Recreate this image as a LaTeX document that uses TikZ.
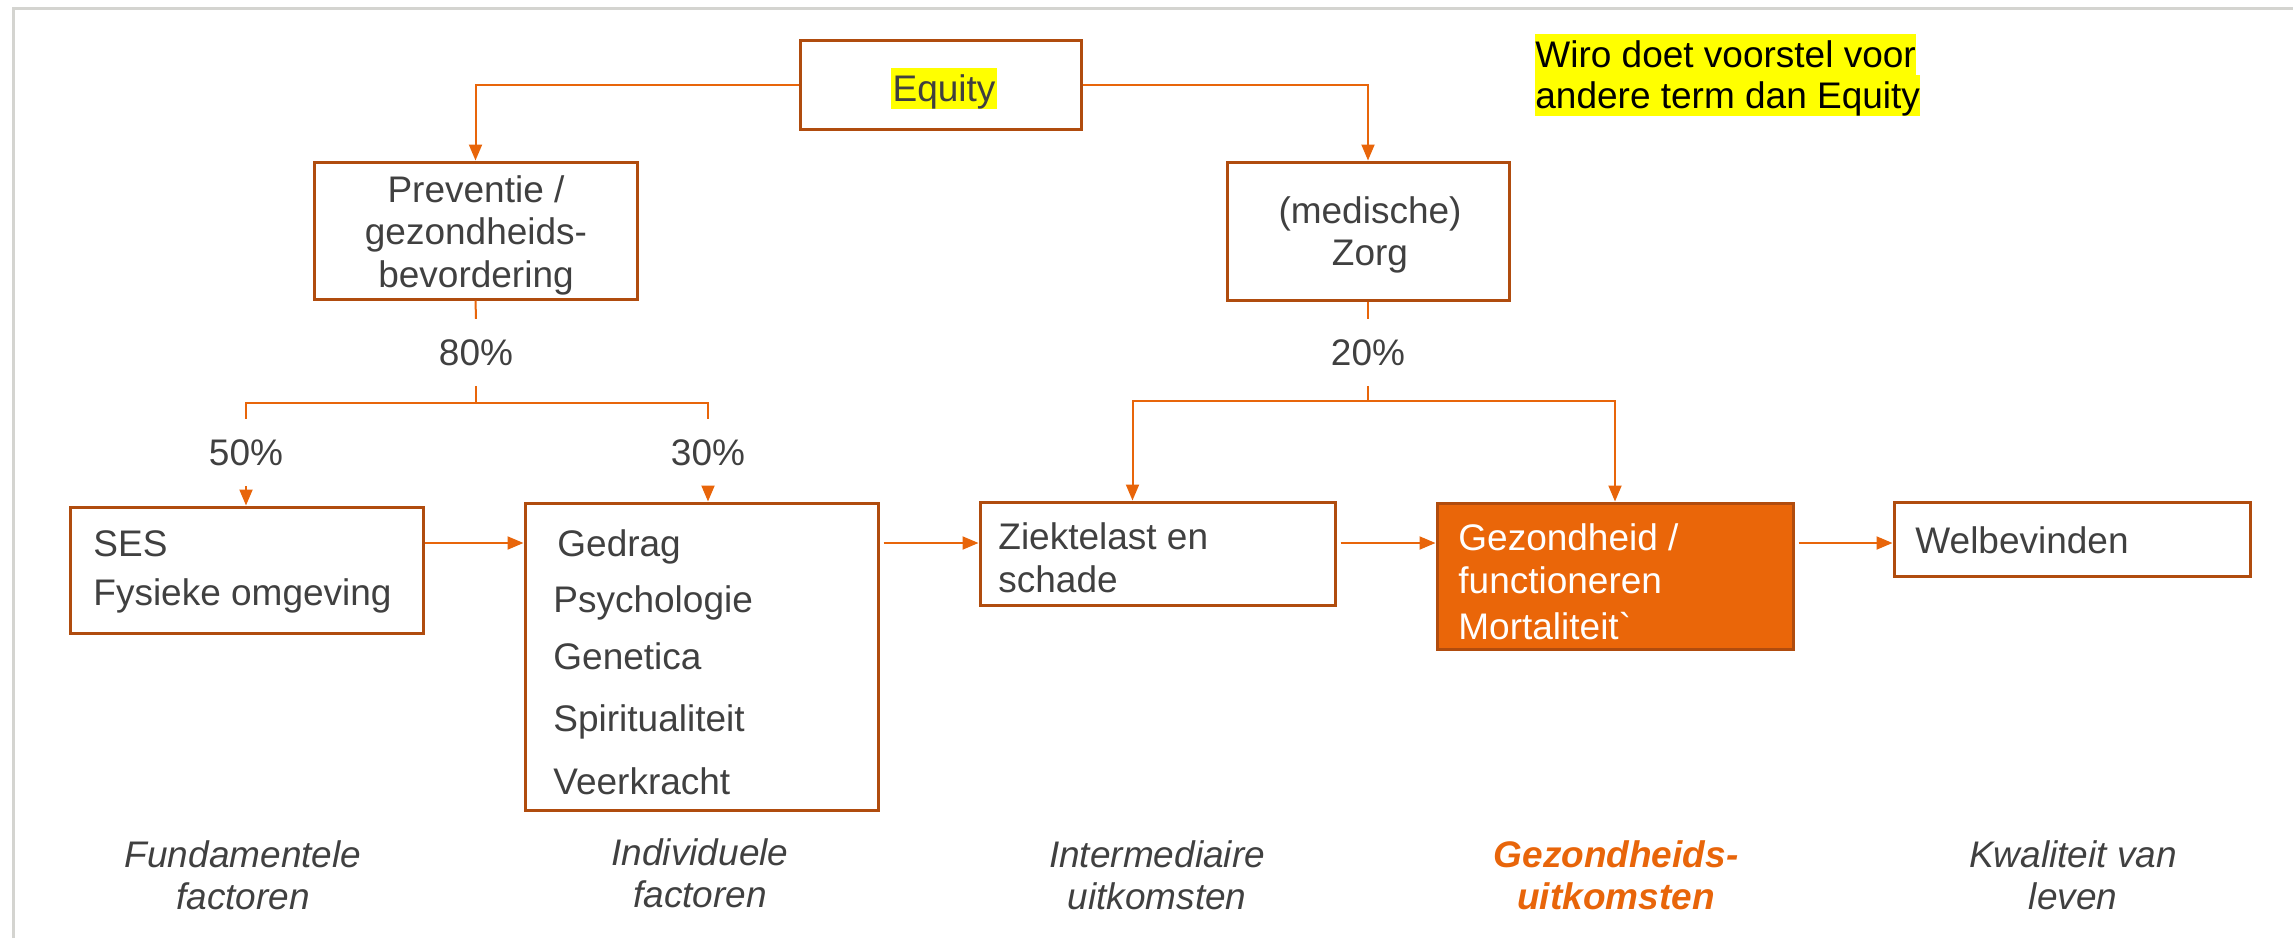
\documentclass[tikz,border=0pt]{standalone}
\usepackage{fontspec}
\setmainfont{Liberation Sans}
\usetikzlibrary{arrows.meta,fit}
\definecolor{boxc}{HTML}{B04C0E}
\definecolor{arrc}{HTML}{E8650A}
\definecolor{orfill}{HTML}{EA6609}
\definecolor{txtc}{HTML}{404040}
\definecolor{framec}{HTML}{D4D4D0}
\definecolor{hlc}{HTML}{FFFF00}

\begin{document}
\begin{tikzpicture}[x=0.5pt,y=-0.5pt,
  bx/.style={draw=boxc, line width=1.5pt, inner sep=0pt},
  txt/.style={font=\fontsize{18.5}{21}\selectfont, text=txtc, inner sep=0pt},
  lft/.style={txt, anchor=base west},
  ctr/.style={txt, anchor=base},
  pct/.style={txt, anchor=base, inner ysep=10pt},
  hl/.style={txt, fill=hlc, text height=16.5pt, text depth=4pt, inner xsep=1pt},
  lab/.style={txt, anchor=base, font=\fontsize{18.5}{21}\selectfont\itshape},
  hlab/.style={lab, text=arrc, font=\fontsize{18.5}{21}\selectfont\bfseries\itshape},
  ln/.style={draw=arrc, line width=1pt},
  ar/.style={ln, -{Triangle[length=8pt,width=6.5pt]}},
]
\useasboundingbox (0,0) rectangle (2293,938);

% page frame (top and left edge)
\draw[framec, line width=1.5pt] (13,938) -- (13,8) -- (2293,8);

% boxes
\node[bx, fit={(800,40) (1081,129)}] (eq) {};
\node[bx, fit={(314,162) (637,299)}] (prev) {};
\node[bx, fit={(1227,162) (1509,300)}] (zorg) {};
\node[bx, fit={(70,507) (423,633)}] (ses) {};
\node[bx, fit={(525,503) (878,810)}] (ind) {};
\node[bx, fit={(980,502) (1335,605)}] (zk) {};
\node[bx, fill=orfill, fit={(1437,503) (1793,649)}] (gz) {};
\node[bx, fit={(1894,502) (2250,576)}] (wb) {};

% box texts
\node[hl, anchor=base] (eqt) at (944,101) {Equity};
\node[ctr] (pv1) at (476,202) {Preventie /};
\node[ctr] (pv2) at (476,244) {gezondheids-};
\node[ctr] (pv3) at (476,287) {bevordering};
\node[ctr] (zg1) at (1370,223) {(medische)};
\node[ctr] (zg2) at (1370,265) {Zorg};

\node[lft] (s1) at (93,556) {SES};
\node[lft] (s2) at (93,605) {Fysieke omgeving};
\node[lft] (i1) at (557,556) {Gedrag};
\node[lft] (i2) at (553,612) {Psychologie};
\node[lft] (i3) at (553,669) {Genetica};
\node[lft] (i4) at (553,731) {Spiritualiteit};
\node[lft] (i5) at (553,794) {Veerkracht};
\node[lft] (z1) at (998,549) {Ziektelast en};
\node[lft] (z2) at (998,592) {schade};
\node[lft, text=white] (g1) at (1458,550) {Gezondheid /};
\node[lft, text=white] (g2) at (1458,593) {functioneren};
\node[lft, text=white] (g3) at (1458,639) {Mortaliteit\textasciigrave};
\node[lft] (w1) at (1915,553) {Welbevinden};

% percentages
\node[pct] (p80) at (476,365) {80\%};
\node[pct] (p20) at (1368,365) {20\%};
\node[pct] (p50) at (246,465) {50\%};
\node[pct] (p30) at (708,465) {30\%};

% note
\node[hl, anchor=base west, text=black, inner xsep=0pt] (n1) at (1535,67) {Wiro doet voorstel voor\ };
\node[hl, anchor=base west, text=black, inner xsep=0pt] (n2) at (1535,108) {andere term dan Equity};

% column labels
\node[lab] (f1) at (243,867) {Fundamentele};
\node[lab] (f2) at (243,909) {factoren};
\node[lab] (if1) at (700,865) {Individuele};
\node[lab] (if2) at (700,907) {factoren};
\node[lab] (m1) at (1157,867) {Intermediaire};
\node[lab] (m2) at (1157,909) {uitkomsten};
\node[hlab] (h1) at (1616,867) {Gezondheids-};
\node[hlab] (h2) at (1616,909) {uitkomsten};
\node[lab] (k1) at (2073,867) {Kwaliteit van};
\node[lab] (k2) at (2073,909) {leven};

% connectors
\coordinate (s80) at (476,403);
\coordinate (s20) at (1368,401);
\coordinate (row) at (0,543);

\draw[ar] (eq.west) -| (prev.north);
\draw[ar] (eq.east) -| (zorg.north);

\draw[ln] (prev.south) -- (p80.north);
\draw[ln] (p80.south) -- (s80);
\draw[ln] (p50.north) |- (s80) -| (p30.north);
\draw[ar] (p50.south) -- (p50.south |- ses.north);
\draw[ar] (p30.south) -- (p30.south |- ind.north);

\draw[ln] (zorg.south) -- (p20.north);
\draw[ln] (p20.south) -- (s20);
\draw[ar] (s20) -| ([xshift=77pt]zk.north west);
\draw[ar] (s20) -| (gz.north);

\draw[ar] (ses.east |- row) -- (ind.west |- row);
\draw[ar] ([xshift=2pt]ind.east |- row) -- (zk.west |- row);
\draw[ar] ([xshift=2pt]zk.east |- row) -- (gz.west |- row);
\draw[ar] ([xshift=2pt]gz.east |- row) -- (wb.west |- row);
\end{tikzpicture}
\end{document}
